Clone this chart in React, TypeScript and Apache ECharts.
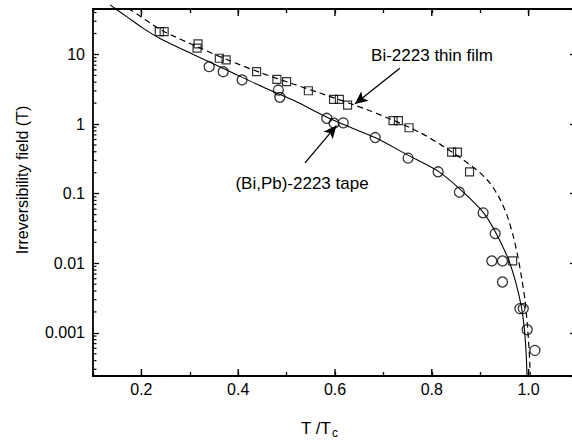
import React, { useEffect, useRef } from 'react';
import * as echarts from 'echarts';

// ---- data ----
// (Bi,Pb)-2223 tape, open circles
const tapeT = [0.340, 0.369, 0.408, 0.483, 0.486, 0.583, 0.598, 0.617, 0.683, 0.751, 0.813, 0.857, 0.906, 0.931, 0.924, 0.946, 0.946, 0.982, 0.989, 0.997, 1.013];
const tapeH = [6.68, 5.66, 4.30, 3.08, 2.42, 1.21, 1.03, 1.04, 0.64, 0.324, 0.206, 0.105, 0.053, 0.0267, 0.0108, 0.0108, 0.00538, 0.00223, 0.00223, 0.00111, 0.00056];

// Bi-2223 thin film, open squares
const filmT = [0.237, 0.247, 0.317, 0.315, 0.361, 0.375, 0.438, 0.480, 0.500, 0.545, 0.597, 0.609, 0.626, 0.720, 0.731, 0.753, 0.841, 0.853, 0.878, 0.967];
const filmH = [21.3, 21.3, 14.2, 12.3, 8.82, 8.34, 5.66, 4.40, 4.06, 3.01, 2.27, 2.27, 1.87, 1.12, 1.12, 0.885, 0.395, 0.395, 0.206, 0.0108];

// fitted curve for the tape (solid)
const tapeFitT = [0.135, 0.1696, 0.2039, 0.2384, 0.3072, 0.3762, 0.4554, 0.5132, 0.5959, 0.6826, 0.7508, 0.8128, 0.8583, 0.9058, 0.9306, 0.9574, 0.9740, 0.9853, 0.9915, 0.9952, 0.9967];
const tapeFitH = [51.5, 35.0, 23.7, 17.0, 10.0, 5.98, 3.30, 2.21, 1.14, 0.640, 0.358, 0.211, 0.116, 0.0542, 0.0289, 0.0118, 0.00515, 0.00233, 0.00109, 0.000474, 0.000237];

// fitted curve for the film (dashed)
const filmFitT = [0.1729, 0.2074, 0.2426, 0.3211, 0.3762, 0.4450, 0.5138, 0.5690, 0.6655, 0.7343, 0.7756, 0.8169, 0.8583, 0.8934, 0.9202, 0.9409, 0.9554, 0.9678, 0.9781, 0.9864, 0.9926, 0.9977, 1.0012, 1.0035];
const filmFitH = [46.2, 31.9, 22.1, 12.4, 8.47, 5.51, 3.76, 2.79, 1.62, 1.03, 0.755, 0.515, 0.330, 0.218, 0.142, 0.0834, 0.0491, 0.0253, 0.0122, 0.00569, 0.00294, 0.00124, 0.000560, 0.000237];

// annotation arrows [fromT, fromH, toT, toH]
const filmArrow = [0.734, 6.33, 0.641, 1.94];
const tapeArrow = [0.538, 0.277, 0.603, 0.952];

// axes
const X_MIN = 0.1;
const X_MAX = 1.1;
const Y_MIN = 0.00024;
const Y_MAX = 45;
const xMajorTicks = [0.2, 0.4, 0.6, 0.8, 1.0];
const yMantissas = [2, 3, 4, 5, 6, 7, 8, 9];
const yDecades = [-4, -3, -2, -1, 0, 1];

const FONT = '"Liberation Sans", Arial, Helvetica, sans-serif';

export default function App() {
  const ref = useRef<HTMLDivElement>(null);

  useEffect(() => {
    if (!ref.current) return;
    const chart = echarts.init(ref.current, undefined, { renderer: 'svg' });

    const yMinor: number[][] = [];
    for (const e of yDecades) {
      for (const m of yMantissas) {
        const v = m * Math.pow(10, e);
        if (v > Y_MIN && v < Y_MAX) yMinor.push([X_MIN, v]);
      }
    }
    const xMajor: number[][] = [];
    for (const t of xMajorTicks) {
      xMajor.push([t, Y_MIN, -1]);
      xMajor.push([t, Y_MAX, 1]);
    }

    const fmtY = (v: number) => {
      const e = Math.round(Math.log10(v));
      const p = Math.pow(10, e);
      return e >= 0 ? String(p) : p.toFixed(-e);
    };

    const axisLine = { show: true, lineStyle: { color: '#000', width: 1.8 } };

    chart.setOption({
      animation: false,
      backgroundColor: '#fff',
      grid: { left: 93, top: 9, width: 484, height: 367, containLabel: false },
      xAxis: [
        {
          type: 'value', position: 'bottom', min: X_MIN, max: X_MAX, interval: 0.1,
          axisLine, splitLine: { show: false },
          axisTick: { show: true, inside: true, length: 4, lineStyle: { color: '#000', width: 1.3 } },
          axisLabel: {
            color: '#000', fontSize: 16, fontFamily: FONT, margin: 5,
            formatter: (v: number) => (Math.round(v * 10) % 2 === 0 && v > 0.15 && v < 1.05 ? v.toFixed(1) : ''),
          },
        },
        {
          type: 'value', position: 'top', min: X_MIN, max: X_MAX, interval: 0.1,
          axisLine, splitLine: { show: false },
          axisTick: { show: true, inside: true, length: 4, lineStyle: { color: '#000', width: 1.3 } },
          axisLabel: { show: false },
        },
      ],
      yAxis: [
        {
          type: 'log', position: 'left', min: Y_MIN, max: Y_MAX, logBase: 10,
          axisLine, splitLine: { show: false },
          axisTick: { show: true, inside: true, length: 6, lineStyle: { color: '#000', width: 1.3 } },
          minorTick: { show: false },
          axisLabel: { color: '#000', fontSize: 16, fontFamily: FONT, margin: 8, showMinLabel: false, showMaxLabel: false, formatter: fmtY },
        },
        {
          type: 'log', position: 'right', min: Y_MIN, max: Y_MAX, logBase: 10,
          axisLine, splitLine: { show: false },
          axisTick: { show: true, inside: true, length: 7, lineStyle: { color: '#000', width: 1.3 } },
          axisLabel: { show: false },
        },
      ],
      series: [
        {
          name: 'tape fit', type: 'line', data: tapeFitT.map((t, i) => [t, tapeFitH[i]]),
          showSymbol: false, smooth: 0.25, clip: false,
          lineStyle: { color: '#000', width: 1.1 },
        },
        {
          name: 'film fit', type: 'line', data: filmFitT.map((t, i) => [t, filmFitH[i]]),
          showSymbol: false, smooth: 0.25, clip: false,
          lineStyle: { color: '#000', width: 1.2, type: [6, 4] },
        },
        {
          name: '(Bi,Pb)-2223 tape', type: 'scatter', data: tapeT.map((t, i) => [t, tapeH[i]]),
          symbol: 'circle', symbolSize: 10,
          itemStyle: { color: 'rgba(0,0,0,0)', borderColor: '#000', borderWidth: 1.3 },
          markLine: {
            silent: true, symbol: ['none', 'arrow'], symbolSize: [9, 13],
            label: { show: false },
            lineStyle: { color: '#000', width: 1.3, type: 'solid' },
            data: [[{ coord: [tapeArrow[0], tapeArrow[1]] }, { coord: [tapeArrow[2], tapeArrow[3]] }]],
          },
        },
        {
          name: 'Bi-2223 thin film', type: 'scatter', data: filmT.map((t, i) => [t, filmH[i]]),
          symbol: 'rect', symbolSize: 8,
          itemStyle: { color: 'rgba(0,0,0,0)', borderColor: '#000', borderWidth: 1.2 },
          markLine: {
            silent: true, symbol: ['none', 'arrow'], symbolSize: [9, 13],
            label: { show: false },
            lineStyle: { color: '#000', width: 1.3, type: 'solid' },
            data: [[{ coord: [filmArrow[0], filmArrow[1]] }, { coord: [filmArrow[2], filmArrow[3]] }]],
          },
        },
        {
          name: 'y minor ticks', type: 'custom', data: yMinor, clip: false, silent: true,
          renderItem: (_p: any, api: any) => {
            const p = api.coord([api.value(0), api.value(1)]);
            return { type: 'line', shape: { x1: p[0], y1: p[1], x2: p[0] + 3.5, y2: p[1] }, style: { stroke: '#000', lineWidth: 1.2 } };
          },
        },
        {
          name: 'x major ticks', type: 'custom', data: xMajor, clip: false, silent: true,
          renderItem: (_p: any, api: any) => {
            const p = api.coord([api.value(0), api.value(1)]);
            const d = api.value(2);
            return { type: 'line', shape: { x1: p[0], y1: p[1], x2: p[0], y2: p[1] + d * 7 }, style: { stroke: '#000', lineWidth: 1.4 } };
          },
        },
      ],
      graphic: [
        {
          type: 'text', x: 22, y: 180, rotation: Math.PI / 2,
          style: { text: 'Irreversibility field (T)', font: `16px ${FONT}`, fill: '#000', align: 'center', verticalAlign: 'middle' },
        },
        {
          type: 'text', x: 316, y: 428,
          style: { text: 'T /T', font: `17px ${FONT}`, fill: '#000', align: 'center', verticalAlign: 'middle' },
        },
        {
          type: 'text', x: 332, y: 433,
          style: { text: 'c', font: `12px ${FONT}`, fill: '#000', align: 'left', verticalAlign: 'middle' },
        },
        {
          type: 'text', x: 432, y: 55,
          style: { text: 'Bi-2223 thin film', font: `17px ${FONT}`, fill: '#000', align: 'center', verticalAlign: 'middle' },
        },
        {
          type: 'text', x: 302, y: 183,
          style: { text: '(Bi,Pb)-2223 tape', font: `17px ${FONT}`, fill: '#000', align: 'center', verticalAlign: 'middle' },
        },
      ],
    });

    return () => chart.dispose();
  }, []);

  return <div ref={ref} style={{ position: 'fixed', left: 0, top: 0, width: 584, height: 441, background: '#fff' }} />;
}
